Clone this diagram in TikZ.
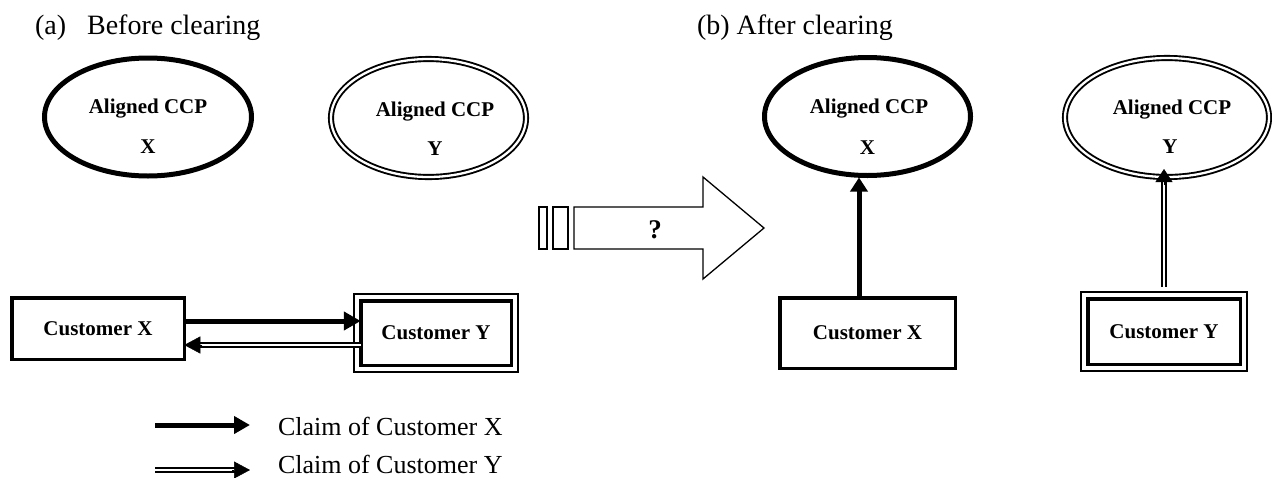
\documentclass[tikz,border=0pt]{standalone}
\usepackage{fontspec}
\setmainfont{Liberation Serif}
\usetikzlibrary{shapes.geometric,arrows.meta,calc}
\begin{document}
\begin{tikzpicture}[x=1pt,y=-1pt,
  every node/.style={inner sep=0pt, outer sep=0pt},
  lbl/.style={font=\fontsize{21}{25}\selectfont\bfseries, anchor=base},
  ttl/.style={font=\fontsize{28}{32}\selectfont, anchor=base west},
  leg/.style={font=\fontsize{26}{30}\selectfont, anchor=base west},
  ellX/.style={ellipse, draw, line width=5pt},
  ellY/.style={ellipse, draw, double, line width=1.9pt, double distance=2.3pt},
  boxX/.style={rectangle, draw, line width=3.5pt, fill=white, font=\fontsize{21}{25}\selectfont\bfseries},
  boxY/.style={rectangle, draw, line width=3.5pt, font=\fontsize{21}{25}\selectfont\bfseries},
  outerY/.style={line width=2pt},
  thk/.style={line width=5pt, -{Triangle[length=17pt,width=18pt]}},
  dbl/.style={double, line width=1.6pt, double distance=2pt},
  dbltip/.style={line width=0.5pt, -{Triangle[length=16pt,width=17pt]}},
  blk/.style={draw, line width=1.3pt, line join=miter}
]
\useasboundingbox (0,0) rectangle (1272,477);

% titles
\node[ttl] (ta) at (35,34) {(a)\hspace{21pt}Before clearing};
\node[ttl] (tb) at (697,34) {(b) After clearing};

% ellipses
\node[ellX, minimum width=207pt, minimum height=118pt] (exl) at (148,117) {};
\node[ellY, minimum width=195pt, minimum height=118pt] (eyl) at (428.5,118) {};
\node[ellX, minimum width=206pt, minimum height=118pt] (exr) at (867.5,116.5) {};
\node[ellY, minimum width=204pt, minimum height=119pt] (eyr) at (1167,117.5) {};

\node[lbl] (exl1) at (148,113) {Aligned CCP};
\node[lbl] (exl2) at (148,153) {X};
\node[lbl] (eyl1) at (435,116) {Aligned CCP};
\node[lbl] (eyl2) at (435,155) {Y};
\node[lbl] (exr1) at (869,113) {Aligned CCP};
\node[lbl] (exr2) at (867.5,154) {X};
\node[lbl] (eyr1) at (1172,114) {Aligned CCP};
\node[lbl] (eyr2) at (1170,153) {Y};

% boxes
\node[boxX, minimum width=172.5pt, minimum height=61.5pt] (cxl) at (98,328.5) {Customer X};
\node[boxY, minimum width=150.5pt, minimum height=64.5pt] (cyl) at (436,333) {Customer Y};
\node[boxX, minimum width=175.5pt, minimum height=70.5pt] (cxr) at (867.5,333) {Customer X};
\node[boxY, minimum width=152.5pt, minimum height=65.5pt] (cyr) at (1164,331.5) {Customer Y};
\draw[outerY] ([shift={(-6.5pt,-6.5pt)}]cyl.south west) rectangle ([shift={(6.5pt,6.5pt)}]cyl.north east);
\draw[outerY] ([shift={(-6.5pt,-6.5pt)}]cyr.south west) rectangle ([shift={(6.5pt,6.5pt)}]cyr.north east);

% left connectors
\coordinate (a1) at ([yshift=7.5pt]cxl.east);
\draw[thk] (a1) -- (a1 -| cyl.west);
\coordinate (b1) at ([yshift=-16.5pt]cxl.east);
\draw[dbl, shorten >=14pt] (b1 -| cyl.west) -- (b1);
\draw[dbltip] ([xshift=18pt]b1) -- (b1);

% right connectors
\draw[thk, -{Triangle[length=14pt,width=17pt]}] ([xshift=-8.5pt]cxr.north) -- ([xshift=-8.5pt,yshift=-2pt]exr.south);
\coordinate (c1) at ([yshift=11.75pt]cyr.north);
\coordinate (c2) at ([yshift=8pt]eyr.south);
\coordinate (c3) at (c1 |- c2);
\draw[dbl, shorten >=11pt] (c1) -- (c3);
\draw[dbltip, -{Triangle[length=13pt,width=17pt]}] ([yshift=-16pt]c3) -- (c3);

% block arrow
\draw[blk] (539,207) rectangle (547,249);
\draw[blk] (553,207) rectangle (568,249);
\draw[blk] (574,207) -- (703,207) -- (703,177) -- (764,228) -- (703,279) -- (703,249) -- (574,249) -- cycle;
\node[font=\fontsize{27}{30}\selectfont\bfseries] (q) at (655,230) {?};

% legend
\coordinate (lx1) at (155,425);
\coordinate (lx2) at (250,425);
\draw[thk, -{Triangle[length=16pt,width=17pt]}] (lx1) -- (lx2);
\coordinate (ly1) at (155,470);
\coordinate (ly2) at (250,470);
\draw[dbl, shorten >=14pt] (ly1) -- (ly2);
\draw[dbltip] ([xshift=-18pt]ly2) -- (ly2);
\node[leg] (lt1) at (278,435) {Claim of Customer X};
\node[leg] (lt2) at (278,473) {Claim of Customer Y};
\end{tikzpicture}
\end{document}
